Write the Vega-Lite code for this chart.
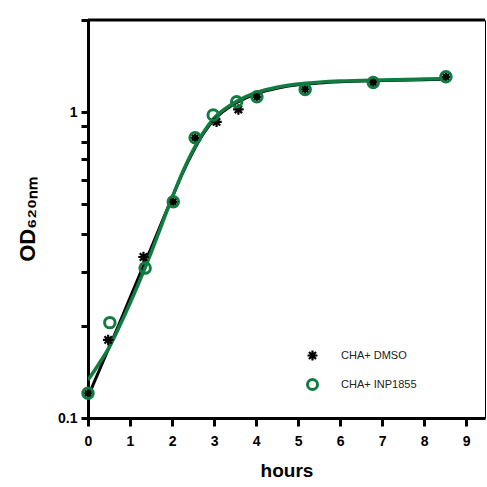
{
  "$schema": "https://vega.github.io/schema/vega-lite/v6.json",
  "width": 397,
  "height": 398,
  "autosize": {"type": "none"},
  "padding": {"left": 88, "top": 20, "right": 2, "bottom": 69},
  "background": "white",
  "config": {
    "view": {"stroke": "black", "strokeWidth": 1},
    "font": "Liberation Sans",
    "axis": {
      "domainColor": "black", "domainWidth": 3, "tickColor": "black", "tickWidth": 3,
      "labelColor": "black", "labelFont": "Liberation Sans", "labelFontWeight": "bold",
      "titleFont": "Liberation Sans", "titleFontWeight": "bold", "titleColor": "black", "grid": false
    },
    "legend": {
      "labelFontSize": 11, "labelColor": "#222222", "labelFont": "Liberation Sans",
      "symbolSize": 100, "symbolStrokeWidth": 3, "rowPadding": 8, "labelOffset": 22
    }
  },
  "datasets": {
    "curves": [
      {"series": "CHA+ DMSO", "hours": 0, "od": 0.1175},
      {"series": "CHA+ DMSO", "hours": 0.25, "od": 0.1413},
      {"series": "CHA+ DMSO", "hours": 0.5, "od": 0.1698},
      {"series": "CHA+ DMSO", "hours": 0.75, "od": 0.2042},
      {"series": "CHA+ DMSO", "hours": 1.0, "od": 0.2472},
      {"series": "CHA+ DMSO", "hours": 1.25, "od": 0.2985},
      {"series": "CHA+ DMSO", "hours": 1.5, "od": 0.3589},
      {"series": "CHA+ DMSO", "hours": 1.75, "od": 0.4345},
      {"series": "CHA+ DMSO", "hours": 2.0, "od": 0.5248},
      {"series": "CHA+ DMSO", "hours": 2.25, "od": 0.631},
      {"series": "CHA+ DMSO", "hours": 2.5, "od": 0.7413},
      {"series": "CHA+ DMSO", "hours": 2.75, "od": 0.8511},
      {"series": "CHA+ DMSO", "hours": 3.0, "od": 0.9441},
      {"series": "CHA+ DMSO", "hours": 3.25, "od": 1.0116},
      {"series": "CHA+ DMSO", "hours": 3.5, "od": 1.0666},
      {"series": "CHA+ DMSO", "hours": 3.75, "od": 1.1117},
      {"series": "CHA+ DMSO", "hours": 4.0, "od": 1.1482},
      {"series": "CHA+ DMSO", "hours": 4.5, "od": 1.1967},
      {"series": "CHA+ DMSO", "hours": 5.0, "od": 1.2274},
      {"series": "CHA+ DMSO", "hours": 5.5, "od": 1.2445},
      {"series": "CHA+ DMSO", "hours": 6.0, "od": 1.256},
      {"series": "CHA+ DMSO", "hours": 7.0, "od": 1.2677},
      {"series": "CHA+ DMSO", "hours": 8.0, "od": 1.2764},
      {"series": "CHA+ DMSO", "hours": 8.5, "od": 1.2794},
      {"series": "CHA+ INP1855", "hours": 0, "od": 0.133},
      {"series": "CHA+ INP1855", "hours": 0.25, "od": 0.1496},
      {"series": "CHA+ INP1855", "hours": 0.5, "od": 0.1698},
      {"series": "CHA+ INP1855", "hours": 0.75, "od": 0.1995},
      {"series": "CHA+ INP1855", "hours": 1.0, "od": 0.2371},
      {"series": "CHA+ INP1855", "hours": 1.25, "od": 0.2851},
      {"series": "CHA+ INP1855", "hours": 1.5, "od": 0.3467},
      {"series": "CHA+ INP1855", "hours": 1.75, "od": 0.4266},
      {"series": "CHA+ INP1855", "hours": 2.0, "od": 0.5248},
      {"series": "CHA+ INP1855", "hours": 2.25, "od": 0.636},
      {"series": "CHA+ INP1855", "hours": 2.5, "od": 0.75},
      {"series": "CHA+ INP1855", "hours": 2.75, "od": 0.86},
      {"series": "CHA+ INP1855", "hours": 3.0, "od": 0.955},
      {"series": "CHA+ INP1855", "hours": 3.25, "od": 1.022},
      {"series": "CHA+ INP1855", "hours": 3.5, "od": 1.077},
      {"series": "CHA+ INP1855", "hours": 3.75, "od": 1.122},
      {"series": "CHA+ INP1855", "hours": 4.0, "od": 1.158},
      {"series": "CHA+ INP1855", "hours": 4.5, "od": 1.206},
      {"series": "CHA+ INP1855", "hours": 5.0, "od": 1.236},
      {"series": "CHA+ INP1855", "hours": 5.5, "od": 1.252},
      {"series": "CHA+ INP1855", "hours": 6.0, "od": 1.263},
      {"series": "CHA+ INP1855", "hours": 7.0, "od": 1.274},
      {"series": "CHA+ INP1855", "hours": 8.0, "od": 1.282},
      {"series": "CHA+ INP1855", "hours": 8.5, "od": 1.285}
    ],
    "points": [
      {"series": "CHA+ DMSO", "hours": 0, "od": 0.1204},
      {"series": "CHA+ DMSO", "hours": 0.48, "od": 0.18},
      {"series": "CHA+ DMSO", "hours": 1.32, "od": 0.336},
      {"series": "CHA+ DMSO", "hours": 2.03, "od": 0.509},
      {"series": "CHA+ DMSO", "hours": 2.55, "od": 0.824},
      {"series": "CHA+ DMSO", "hours": 3.06, "od": 0.929},
      {"series": "CHA+ DMSO", "hours": 3.58, "od": 1.02},
      {"series": "CHA+ DMSO", "hours": 4.02, "od": 1.122},
      {"series": "CHA+ DMSO", "hours": 5.17, "od": 1.186},
      {"series": "CHA+ DMSO", "hours": 6.79, "od": 1.25},
      {"series": "CHA+ DMSO", "hours": 8.52, "od": 1.304},
      {"series": "CHA+ INP1855", "hours": 0, "od": 0.1204},
      {"series": "CHA+ INP1855", "hours": 0.52, "od": 0.205},
      {"series": "CHA+ INP1855", "hours": 1.36, "od": 0.309},
      {"series": "CHA+ INP1855", "hours": 2.03, "od": 0.509},
      {"series": "CHA+ INP1855", "hours": 2.55, "od": 0.824},
      {"series": "CHA+ INP1855", "hours": 2.98, "od": 0.978},
      {"series": "CHA+ INP1855", "hours": 3.54, "od": 1.081},
      {"series": "CHA+ INP1855", "hours": 4.02, "od": 1.122},
      {"series": "CHA+ INP1855", "hours": 5.17, "od": 1.186},
      {"series": "CHA+ INP1855", "hours": 6.79, "od": 1.25},
      {"series": "CHA+ INP1855", "hours": 8.52, "od": 1.304}
    ],
    "frame": [{"od": 2}]
  },
  "encoding": {
    "x": {
      "field": "hours", "type": "quantitative",
      "scale": {"domain": [0, 9.45], "nice": false, "zero": true},
      "axis": {
        "title": "hours", "values": [0, 1, 2, 3, 4, 5, 6, 7, 8, 9],
        "tickSize": 8, "labelPadding": 8, "labelFontSize": 14, "labelFlush": false,
        "titleFontSize": 19, "titlePadding": 13
      }
    },
    "y": {
      "field": "od", "type": "quantitative",
      "scale": {"type": "log", "domain": [0.1, 2], "nice": false},
      "axis": {
        "title": "OD₆₂₀ₙₘ",
        "values": [0.1, 0.2, 0.3, 0.4, 0.5, 0.6, 0.7, 0.8, 0.9, 1, 2],
        "labelExpr": "datum.value == 1 ? '1' : (abs(datum.value - 0.1) < 1e-9 ? '0.1' : '')",
        "tickSize": 7, "labelPadding": 4, "labelFontSize": 14,
        "titleFontSize": 22, "titlePadding": 18
      }
    }
  },
  "layer": [
    {
      "data": {"name": "frame"},
      "mark": {"type": "rule", "color": "black", "strokeWidth": 3},
      "encoding": {"x": null}
    },
    {
      "data": {"name": "curves"},
      "transform": [{"filter": "datum.series == 'CHA+ DMSO'"}],
      "mark": {"type": "line", "interpolate": "monotone", "clip": true, "color": "#000000", "strokeWidth": 3}
    },
    {
      "data": {"name": "curves"},
      "transform": [{"filter": "datum.series == 'CHA+ INP1855'"}],
      "mark": {"type": "line", "interpolate": "monotone", "clip": true, "color": "#107c41", "strokeWidth": 3.5}
    },
    {
      "data": {"name": "points"},
      "mark": {"type": "point", "filled": false, "opacity": 1, "size": 110},
      "encoding": {
        "color": {
          "field": "series", "type": "nominal",
          "scale": {"domain": ["CHA+ DMSO", "CHA+ INP1855"], "range": ["#000000", "#107c41"]},
          "legend": {"title": null, "orient": "none", "legendX": 218, "legendY": 329}
        },
        "shape": {
          "field": "series", "type": "nominal",
          "scale": {"domain": ["CHA+ DMSO", "CHA+ INP1855"], "range": ["M0,-1L0,1M-1,0L1,0M-0.7,-0.7L0.7,0.7M-0.7,0.7L0.7,-0.7", "circle"]},
          "legend": {"title": null, "orient": "none", "legendX": 218, "legendY": 329}
        },
        "strokeWidth": {
          "field": "series", "type": "nominal",
          "scale": {"domain": ["CHA+ DMSO", "CHA+ INP1855"], "range": [2.2, 3]},
          "legend": null
        }
      }
    }
  ]
}
